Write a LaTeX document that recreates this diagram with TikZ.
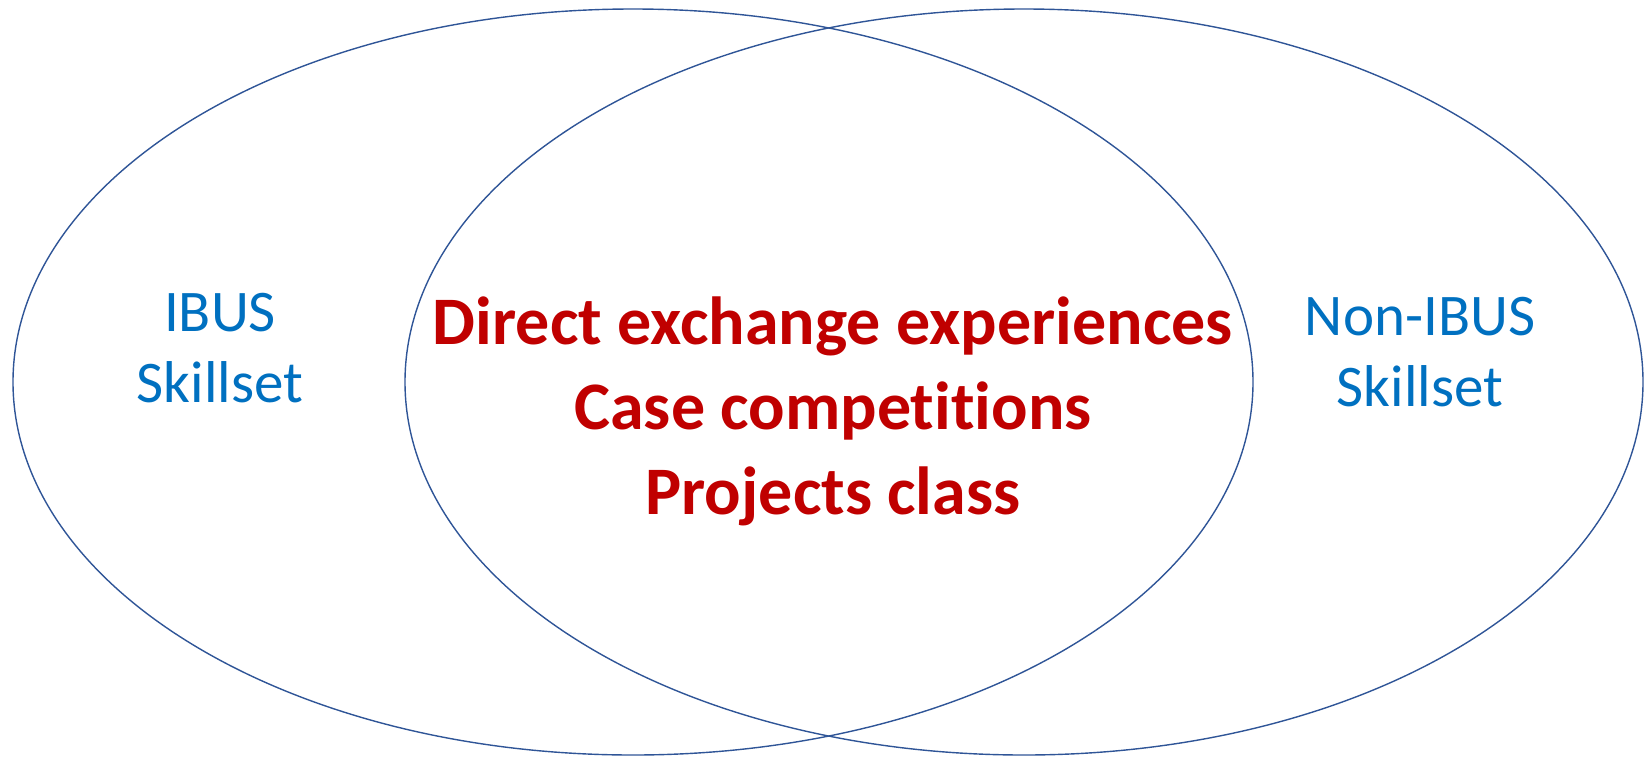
\documentclass[tikz,border=0pt]{standalone}
\usepackage{fontspec}
\setmainfont[Ligatures=NoCommon]{Carlito}
\usetikzlibrary{shapes.geometric}
\definecolor{ringblue}{HTML}{2F5597}
\definecolor{skillblue}{HTML}{0070C0}
\definecolor{coredred}{HTML}{C00000}

\begin{document}
\begin{tikzpicture}[x=1pt,y=-1pt,
      ring/.style={draw=ringblue,line width=1.4pt},
      side/.style={text=skillblue,align=center,anchor=base,
        font=\fontsize{59}{71}\selectfont},
      core/.style={text=coredred,align=center,anchor=base,
        font=\fontsize{68}{85}\selectfont\bfseries}]

      \useasboundingbox (0,0) rectangle (1644,756);

      \draw[ring] (633,382)  ellipse [x radius=620pt, y radius=373pt];
      \draw[ring] (1024,382) ellipse [x radius=619pt, y radius=373pt];

      \node[side] (ibus)    at (220,402)  {IBUS\\Skillset};
      \node[side] (nonibus) at (1420,406) {Non-IBUS\\Skillset};
      \node[core] (overlap) at (833,514)  {Direct exchange experiences\\Case competitions\\Projects class};
    \end{tikzpicture}
\end{document}
